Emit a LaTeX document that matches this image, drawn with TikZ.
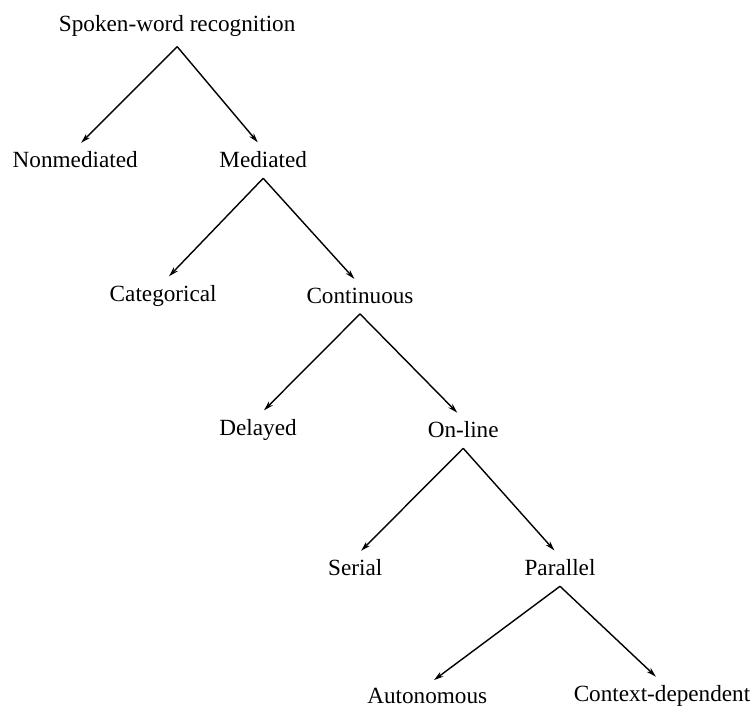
\documentclass[tikz,border=0pt]{standalone}
\usepackage{fontspec}
\setmainfont{Liberation Serif}
\usetikzlibrary{arrows.meta}

\tikzset{
    lbl/.style={inner sep=2pt, font=\fontsize{16.5}{18}\selectfont},
    branch/.style={->, line width=1pt, shorten >=6pt}
}

\begin{document}
\begin{tikzpicture}[>={Stealth[length=7pt,width=4pt]}]
            % 1. Fix the frame of the picture
            \useasboundingbox (0,0) rectangle (18.825,-17.7);

            % 2. Place the labels of the tree, level by level
            \node[lbl] (root) at (4.43,-0.65) {Spoken-word recognition};
            \node[lbl] (nonmed) at (1.88,-4.0) {Nonmediated};
            \node[lbl] (med) at (6.58,-4.0) {Mediated};
            \node[lbl] (cat) at (4.08,-7.4) {Categorical};
            \node[lbl] (cont) at (9.0,-7.4) {Continuous};
            \node[lbl] (delay) at (6.45,-10.75) {Delayed};
            \node[lbl] (online) at (11.58,-10.75) {On-line};
            \node[lbl] (serial) at (8.88,-14.2) {Serial};
            \node[lbl] (par) at (14.0,-14.2) {Parallel};
            \node[lbl] (auto) at (10.68,-17.4) {Autonomous};
            \node[lbl] (ctx) at (16.55,-17.4) {Context-dependent};

            % 3. Fork points just under each parent
            \coordinate (fork1) at ([yshift=-5pt]root.south);
            \coordinate (fork2) at ([yshift=-5pt]med.south);
            \coordinate (fork3) at ([yshift=-5pt]cont.south);
            \coordinate (fork4) at ([yshift=-5pt]online.south);
            \coordinate (fork5) at ([yshift=-5pt]par.south);

            % 4. Draw the branches from each fork to its two children
            \draw[branch] (fork1) -- (nonmed.north);
            \draw[branch] (fork1) -- (med.north);
            \draw[branch] (fork2) -- (cat.north);
            \draw[branch] (fork2) -- (cont.north);
            \draw[branch] (fork3) -- (delay.north);
            \draw[branch] (fork3) -- (online.north);
            \draw[branch] (fork4) -- (serial.north);
            \draw[branch] (fork4) -- (par.north);
            \draw[branch] (fork5) -- (auto.north);
            \draw[branch] (fork5) -- (ctx.north);

        \end{tikzpicture}
\end{document}
